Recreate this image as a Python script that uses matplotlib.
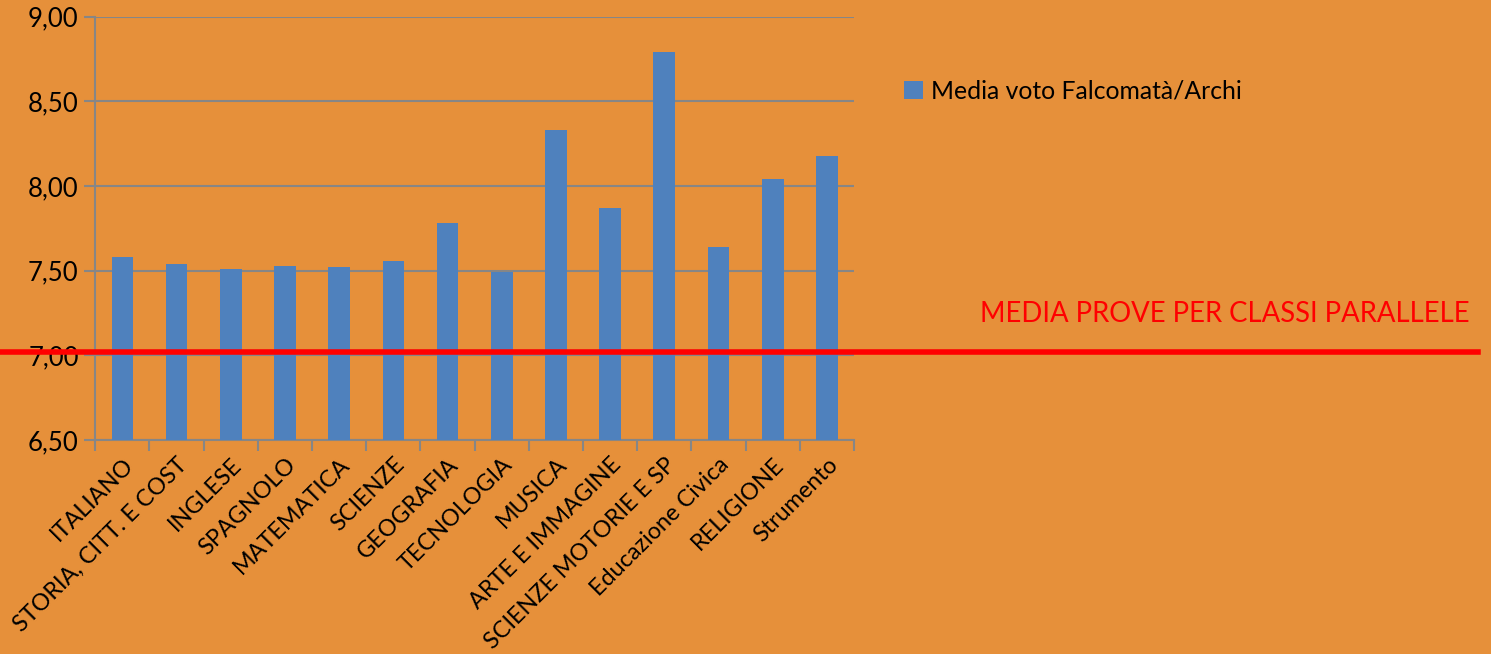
import matplotlib
matplotlib.use("Agg")
import matplotlib.pyplot as plt
from matplotlib.transforms import blended_transform_factory
from matplotlib.patches import Patch
import numpy as np

categories = ["ITALIANO", "STORIA, CITT. E COST", "INGLESE", "SPAGNOLO", "MATEMATICA",
              "SCIENZE", "GEOGRAFIA", "TECNOLOGIA", "MUSICA", "ARTE E IMMAGINE",
              "SCIENZE MOTORIE E SP", "Educazione Civica", "RELIGIONE", "Strumento"]
values = [7.58, 7.54, 7.51, 7.53, 7.52, 7.56, 7.78, 7.49, 8.33, 7.87, 8.79, 7.64, 8.04, 8.18]
series_name = "Media voto Falcomatà/Archi"
media_prove = 7.02
media_label = "MEDIA PROVE PER CLASSI PARALLELE"
yticks = [6.5, 7.0, 7.5, 8.0, 8.5, 9.0]

plt.rcParams['font.family'] = ['Lato', 'DejaVu Sans']

BG = "#E6903A"
BAR = "#4F81BD"
GRID = "#868686"

fig = plt.figure(figsize=(14.91, 6.54), dpi=100, facecolor=BG)
ax = fig.add_axes([95.3 / 1491, 1 - 440 / 654, (854 - 95.3) / 1491, (440 - 16.7) / 654])
ax.set_facecolor(BG)

x = np.arange(len(categories))
ax.bar(x, values, width=0.4, color=BAR, zorder=3)

ax.set_ylim(6.5, 9.0)
ax.set_xlim(-0.5, len(categories) - 0.5)
ax.set_yticks(yticks)
ax.set_yticklabels([f"{v:.2f}".replace(".", ",") for v in yticks], fontsize=18.5)
ax.yaxis.grid(True, color=GRID, linewidth=1.5, zorder=0)
ax.tick_params(axis='y', length=8, width=1.5, color=GRID, pad=4)

ax.set_xticks(np.arange(len(categories) + 1) - 0.5)
ax.set_xticklabels([])
ax.tick_params(axis='x', which='major', length=8, width=1.5, color=GRID)
ax.set_xticks(x, minor=True)
ax.set_xticklabels(categories, minor=True, rotation=45, ha='right', va='top',
                   rotation_mode='anchor', fontsize=16.8)
ax.tick_params(axis='x', which='minor', length=0, pad=10)

for s in ['top', 'right']:
    ax.spines[s].set_visible(False)
for s in ['left', 'bottom']:
    ax.spines[s].set_color(GRID)
    ax.spines[s].set_linewidth(1.5)

tr = blended_transform_factory(fig.transFigure, ax.transData)
ax.plot([0, 1478 / 1491], [media_prove, media_prove], color="#FF0000", linewidth=4,
        transform=tr, clip_on=False, zorder=5)
fig.text(1470 / 1491, 1 - 314 / 654, media_label, color="#FF0000", fontsize=19.8,
         ha='right', va='center')

handle = Patch(facecolor=BAR, edgecolor='none')
fig.legend([handle], [series_name], loc='center left',
           bbox_to_anchor=(882 / 1491, 1 - 91 / 654), frameon=False, fontsize=17.8,
           handlelength=0.75, handleheight=0.75, handletextpad=0.35)

fig.savefig("out.png", dpi=100, facecolor=BG)
